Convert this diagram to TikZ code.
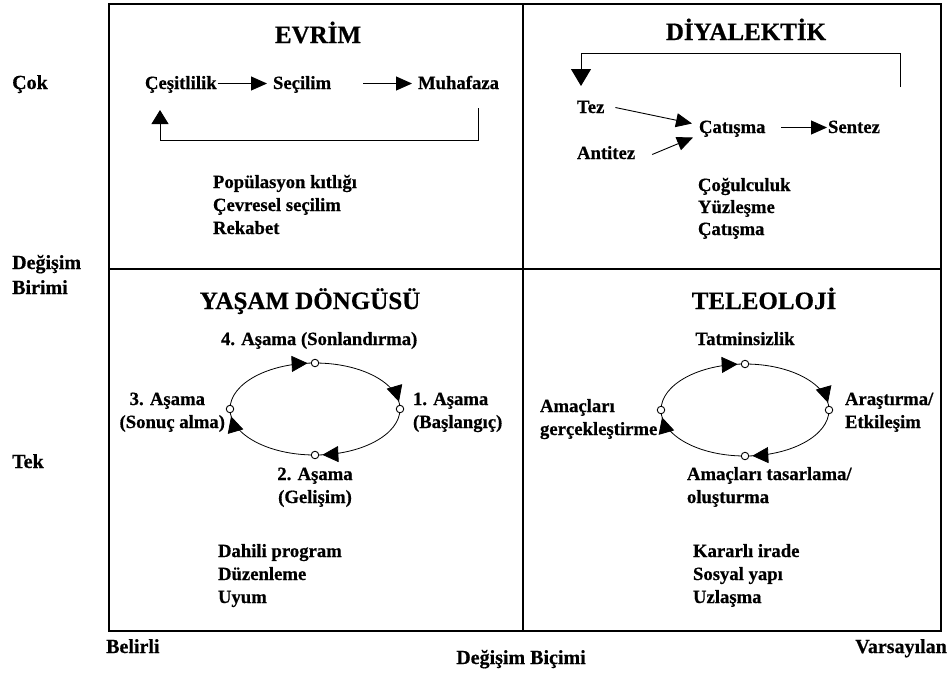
\documentclass[tikz,border=0pt]{standalone}
\usepackage{fontspec}
\setmainfont{Liberation Serif}[BoldFeatures={FakeBold=0.6}]
\usetikzlibrary{arrows.meta,decorations.markings,calc}

\tikzset{
  body/.style={inner sep=0pt, outer sep=0pt, font=\fontsize{18.7}{23}\selectfont\bfseries,
               text height=13pt, text depth=2pt},
  lw/.style={body, anchor=base west},
  le/.style={body, anchor=base east},
  lc/.style={body, anchor=base},
  quadtitle/.style={inner sep=0pt, anchor=base, font=\fontsize{25}{30}\selectfont\bfseries},
  axislbl/.style={inner sep=0pt, font=\fontsize{20}{25}\selectfont\bfseries},
  frame/.style={line width=2.4pt},
  flow/.style={line width=0.9pt, -{Triangle[length=16pt,width=14pt]}},
  loopline/.style={line width=0.9pt},
  cycarc/.style={line width=0.8pt, postaction={decorate},
    decoration={markings, mark=at position 0.93 with {\arrow{Triangle[length=16pt,width=16pt]}}}},
  stage/.style={circle, draw, fill=white, line width=0.9pt, minimum size=7.5pt, inner sep=0pt}
}

\begin{document}
\begin{tikzpicture}[x=1pt,y=-1pt]
\useasboundingbox (0,0) rectangle (950,673);

% ---- four-quadrant frame ----
\draw[frame] (109,4) rectangle (941,631);
\draw[frame] (523,4) -- (523,631);
\draw[frame] (109,269) -- (941,269);

% ---- axis labels ----
\node[axislbl, anchor=base west] (cok) at (12,89) {Çok};
\node[axislbl, anchor=base west] (birim1) at (12,269) {Değişim};
\node[axislbl, anchor=base west] (birim2) at (12,294) {Birimi};
\node[axislbl, anchor=base west] (tek) at (12,468) {Tek};
\node[axislbl, anchor=base west] (belirli) at (106,653) {Belirli};
\node[axislbl, anchor=base] (bicim) at (521,664) {Değişim Biçimi};
\node[axislbl, anchor=base east] (varsay) at (947,653) {Varsayılan};

% ---- EVRİM ----
\node[quadtitle] (evrim) at (318,43) {EVRİM};
\node[lw] (cesit) at (145,89) {Çeşitlilik};
\node[lw] (secil) at (273,89) {Seçilim};
\node[lw] (muh) at (418,89) {Muhafaza};
\draw[flow, shorten <=1pt, shorten >=6pt] (cesit.east) -- (secil.west);
\draw[flow, shorten <=32pt, shorten >=6pt] (secil.east) -- (muh.west);
\coordinate (evback) at (160,140);
\draw[loopline, -{Triangle[length=14pt,width=17pt]}]
  ($(muh.south)+(20,17)$) |- (evback) -- ($(cesit.south west)+(15,19)$);
\node[lw] (ev1) at (213,188) {Popülasyon kıtlığı};
\node[lw] (ev2) at (213,211) {Çevresel seçilim};
\node[lw] (ev3) at (213,234) {Rekabet};

% ---- DİYALEKTİK ----
\node[quadtitle] (diyal) at (746,40) {DİYALEKTİK};
\node[lw] (tez) at (577,113) {Tez};
\node[lw] (antitez) at (577,159) {Antitez};
\node[lw] (catis) at (699,133) {Çatışma};
\node[lw] (sentez) at (828,133) {Sentez};
\draw[flow] ($(tez.east)+(11,0)$) -- ($(catis.west)+(-7,-4)$);
\draw[flow] ($(antitez.east)+(17,1)$) -- ($(catis.west)+(-6,10)$);
\draw[flow, shorten <=16pt, shorten >=1pt] (catis.east) -- (sentez.west);
\coordinate (dstart) at (900,87);
\coordinate (dtop) at (581,53);
\draw[loopline, -{Triangle[length=17pt,width=20pt]}]
  (dstart) |- (dtop) -- ($(tez.north west)+(4,-14)$);
\node[lw] (di1) at (698,191) {Çoğulculuk};
\node[lw] (di2) at (698,213) {Yüzleşme};
\node[lw] (di3) at (698,235) {Çatışma};

% ---- YAŞAM DÖNGÜSÜ ----
\node[quadtitle] (yasam) at (310,309) {YAŞAM DÖNGÜSÜ};
\coordinate (ytop) at (315,363);
\coordinate (yright) at (400,409);
\coordinate (ybot) at (315,455);
\coordinate (yleft) at (230,409);
\draw[cycarc] (yleft) arc[start angle=180, end angle=90, x radius=85pt, y radius=46pt];
\draw[cycarc] (ytop) arc[start angle=90, end angle=0, x radius=85pt, y radius=46pt];
\draw[cycarc] (yright) arc[start angle=0, end angle=-90, x radius=85pt, y radius=46pt];
\draw[cycarc] (ybot) arc[start angle=-90, end angle=-180, x radius=85pt, y radius=46pt];
\node[stage] (ys4) at (ytop) {};
\node[stage] (ys1) at (yright) {};
\node[stage] (ys2) at (ybot) {};
\node[stage] (ys3) at (yleft) {};
\node[lw] (y4) at (221,345) {4. Aşama (Sonlandırma)};
\node[lw] (y1a) at (413,405) {1. Aşama};
\node[lw] (y1b) at (413,428) {(Başlangıç)};
\node[le] (y3a) at (205,405) {3. Aşama};
\node[le] (y3b) at (225,428) {(Sonuç alma)};
\node[lc] (y2a) at (315,480) {2. Aşama};
\node[lc] (y2b) at (315,503) {(Gelişim)};
\node[lw] (ya1) at (218,557) {Dahili program};
\node[lw] (ya2) at (218,580) {Düzenleme};
\node[lw] (ya3) at (218,603) {Uyum};

% ---- TELEOLOJİ ----
\node[quadtitle] (teleo) at (764,309) {TELEOLOJİ};
\coordinate (ttop) at (745,364);
\coordinate (tright) at (829,410);
\coordinate (tbot) at (745,456);
\coordinate (tleft) at (661,410);
\draw[cycarc] (tleft) arc[start angle=180, end angle=90, x radius=84pt, y radius=46pt];
\draw[cycarc] (ttop) arc[start angle=90, end angle=0, x radius=84pt, y radius=46pt];
\draw[cycarc] (tright) arc[start angle=0, end angle=-90, x radius=84pt, y radius=46pt];
\draw[cycarc] (tbot) arc[start angle=-90, end angle=-180, x radius=84pt, y radius=46pt];
\node[stage] (ts1) at (ttop) {};
\node[stage] (ts2) at (tright) {};
\node[stage] (ts3) at (tbot) {};
\node[stage] (ts4) at (tleft) {};
\node[lc] (t1) at (745,345) {Tatminsizlik};
\node[lw] (t2a) at (845,405) {Araştırma/};
\node[lw] (t2b) at (845,428) {Etkileşim};
\node[lw] (t3a) at (687,480) {Amaçları tasarlama/};
\node[lw] (t3b) at (687,503) {oluşturma};
\node[lw] (t4a) at (540,412) {Amaçları};
\node[lw] (t4b) at (540,435) {gerçekleştirme};
\node[lw] (ta1) at (693,557) {Kararlı irade};
\node[lw] (ta2) at (693,580) {Sosyal yapı};
\node[lw] (ta3) at (693,603) {Uzlaşma};
\end{tikzpicture}
\end{document}
